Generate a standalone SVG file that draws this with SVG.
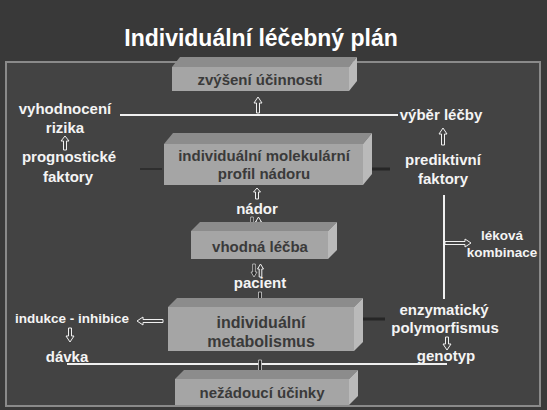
<svg xmlns="http://www.w3.org/2000/svg" width="547" height="410" viewBox="0 0 547 410">
<defs>
<style>
.lbl{font-family:"Liberation Sans",Arial,sans-serif;font-weight:bold;font-size:15px;fill:#f4f4f4;text-anchor:middle}
.sm{font-size:13.5px}
.bt{font-family:"Liberation Sans",Arial,sans-serif;font-weight:bold;font-size:15px;fill:#3a3a3a;text-anchor:middle}
.front{fill:#a5a5a5}
.top{fill:#8c8c8c}
.side{fill:#bababa}
.wl{stroke:#f0f0f0;stroke-width:2;fill:none}
.dl{stroke:#262626;stroke-width:3;fill:none}
.ha{fill:#444;stroke:#f0f0f0;stroke-width:1}
.da{fill:#2a2a2a;stroke:#cfcfcf;stroke-width:0.8}
</style>
</defs>
<rect x="0" y="0" width="547" height="410" fill="#393939"/>
<rect x="6" y="62" width="534" height="344" fill="#434343" stroke="#8a8a8a" stroke-width="2"/>
<text id="title" x="261" y="46" style="font-family:'Liberation Sans',Arial,sans-serif;font-weight:bold;font-size:23px;fill:#ffffff;text-anchor:middle">Individuální léčebný plán</text>

<g id="connectors">
<line class="wl" x1="120" y1="115" x2="398" y2="115"/>
<line class="wl" x1="444" y1="195" x2="444" y2="299"/>
<line class="wl" x1="67" y1="364" x2="447" y2="364"/>
<line class="dl" x1="140" y1="169" x2="162" y2="169" style="stroke-width:2;stroke:#2e2e2e"/>
<line class="dl" x1="365" y1="169" x2="390" y2="169"/>
<line class="dl" x1="362" y1="319" x2="385" y2="319"/>
<path class="ha" d="M258,97 L262,103 L259.5,103 L259.5,113 L256.5,113 L256.5,103 L254,103 Z"/>
<path class="ha" d="M443,128 L447,134 L444.5,134 L444.5,145 L441.5,145 L441.5,134 L439,134 Z"/>
<path class="ha" d="M65,136 L69,141 L66.5,141 L66.5,150 L63.5,150 L63.5,141 L61,141 Z"/>
<path class="ha" d="M257,188 L260.5,192 L258.5,192 L258.5,199 L255.5,199 L255.5,192 L253.5,192 Z"/>
<path class="da" d="M252,229 L255,224 L253.3,224 L253.3,217 L250.7,217 L250.7,224 L249,224 Z"/>
<path class="ha" d="M258.5,217 L261.5,222 L259.8,222 L259.8,229 L257.2,229 L257.2,222 L255.5,222 Z"/>
<path class="da" d="M254,277 L257,272 L255.3,272 L255.3,264 L252.7,264 L252.7,272 L251,272 Z"/>
<path class="ha" d="M260.5,264 L263.5,269 L261.8,269 L261.8,277 L259.2,277 L259.2,269 L257.5,269 Z"/>
<path class="da" d="M260,305 L263.5,299 L261.5,299 L261.5,292 L258.5,292 L258.5,299 L256.5,299 Z"/>
<path class="ha" d="M137,321 L143,317 L143,319.5 L163,319.5 L163,322.5 L143,322.5 L143,325 Z"/>
<path class="ha" d="M70,342 L74,336 L71.5,336 L71.5,328 L68.5,328 L68.5,336 L66,336 Z"/>
<path class="ha" d="M447,350 L451,344 L448.5,344 L448.5,337 L445.5,337 L445.5,344 L443,344 Z"/>
<path class="ha" d="M471,243 L465,239 L465,241.5 L445,241.5 L445,244.5 L465,244.5 L465,247 Z"/>
<path class="da" d="M260,377 L263.5,371 L261.5,371 L261.5,360 L258.5,360 L258.5,371 L256.5,371 Z"/>
</g>

<g id="box-zvyseni">
<polygon class="top" points="172,67 180,57 357,57 349,67"/>
<polygon class="side" points="349,67 357,57 357,81 349,91"/>
<rect class="front" x="172" y="67" width="177" height="24"/>
<text class="bt" x="260" y="85">zvýšení účinnosti</text>
</g>
<g id="box-profil">
<polygon class="top" points="164,144 173,133 372,133 363,144"/>
<polygon class="side" points="363,144 372,133 372,174 363,185"/>
<rect class="front" x="164" y="144" width="199" height="41"/>
<text class="bt" x="264" y="161">individuální molekulární</text>
<text class="bt" x="264" y="179">profil nádoru</text>
</g>
<g id="box-lecba">
<polygon class="top" points="191,231 200,222 337,222 328,231"/>
<polygon class="side" points="328,231 337,222 337,250 328,259"/>
<rect class="front" x="191" y="231" width="137" height="28"/>
<text class="bt" x="260" y="252">vhodná léčba</text>
</g>
<g id="box-metabolismus">
<polygon class="top" points="168,307 177,298 363,298 354,307"/>
<polygon class="side" points="354,307 363,298 363,342 354,351"/>
<rect class="front" x="168" y="307" width="186" height="44"/>
<text class="bt" x="261" y="328" style="font-size:16px">individuální</text>
<text class="bt" x="261" y="347" style="font-size:16px">metabolismus</text>
</g>
<g id="box-nezadouci">
<polygon class="top" points="175,379 184,370 358,370 349,379"/>
<polygon class="side" points="349,379 358,370 358,396 349,405"/>
<rect class="front" x="175" y="379" width="174" height="26"/>
<text class="bt" x="262" y="398">nežádoucí účinky</text>
</g>

<g id="lbl-vyhodnoceni"><text class="lbl" x="65" y="114">vyhodnocení</text><text class="lbl" x="65" y="133">rizika</text></g>
<g id="lbl-vyber"><text class="lbl" x="441" y="120">výběr léčby</text></g>
<g id="lbl-prognosticke"><text class="lbl" x="69" y="162">prognostické</text><text class="lbl" x="68" y="182">faktory</text></g>
<g id="lbl-prediktivni"><text class="lbl" x="443" y="165">prediktivní</text><text class="lbl" x="443" y="184">faktory</text></g>
<g id="lbl-nador"><text class="lbl" x="257" y="214">nádor</text></g>
<g id="lbl-pacient"><text class="lbl" x="260" y="288">pacient</text></g>
<g id="lbl-kombinace"><text class="lbl sm" x="502" y="240">léková</text><text class="lbl sm" x="502" y="257">kombinace</text></g>
<g id="lbl-indukce"><text class="lbl sm" x="72" y="323">indukce - inhibice</text></g>
<g id="lbl-davka"><text class="lbl" x="67" y="362">dávka</text></g>
<g id="lbl-enzym"><text class="lbl" x="444" y="315">enzymatický</text><text class="lbl" x="445" y="333">polymorfismus</text></g>
<g id="lbl-genotyp"><text class="lbl" x="446" y="361">genotyp</text></g>
</svg>
